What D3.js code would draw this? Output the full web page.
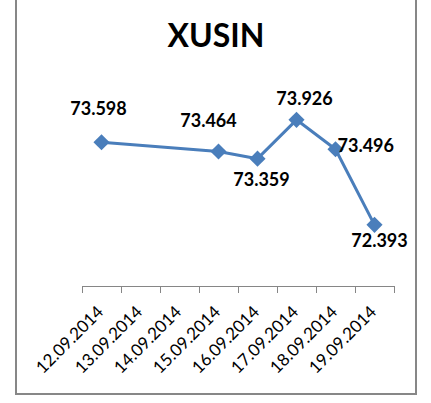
<!DOCTYPE html>
<html>
<head>
<meta charset="utf-8">
<script src="https://cdn.jsdelivr.net/npm/d3@7"></script>
<style>
  html, body { margin: 0; padding: 0; background: #fff; }
  svg { display: block; }
</style>
</head>
<body>
<div id="chart"></div>
<script>
const title = "XUSIN";
const dates = ["12.09.2014", "13.09.2014", "14.09.2014", "15.09.2014", "16.09.2014", "17.09.2014", "18.09.2014", "19.09.2014"];
const values = [73.598, null, null, 73.464, 73.359, 73.926, 73.496, 72.393];
const valueLabels = ["73.598", "", "", "73.464", "73.359", "73.926", "73.496", "72.393"];

const W = 431, H = 403;
const svg = d3.select("#chart").append("svg").attr("width", W).attr("height", H);

// frame
svg.append("rect").attr("x", 16).attr("y", -5).attr("width", 400).attr("height", 399)
  .attr("fill", "#fff").attr("stroke", "#878787").attr("stroke-width", 2);

svg.append("text").attr("x", 216).attr("y", 47).attr("text-anchor", "middle")
  .attr("font-family", "Lato, 'Open Sans', sans-serif").attr("font-weight", "bold")
  .attr("font-size", 32).attr("fill", "#000").text(title);

const x = d3.scaleBand().domain(dates).range([82, 394]).paddingInner(0).paddingOuter(0);
const y = d3.scaleLinear().domain([71.5, 74.5]).range([286, 80.5]);
const cx = d => x(d) + x.bandwidth() / 2;

// axis
const axisY = y(71.5);
const axisG = svg.append("g").attr("stroke", "#868686").attr("stroke-width", 1);
axisG.append("line").attr("x1", x.range()[0]).attr("x2", x.range()[1]).attr("y1", axisY + 0.5).attr("y2", axisY + 0.5);
const bounds = dates.map(d => x(d)).concat([x.range()[1]]);
axisG.selectAll("line.tick").data(bounds).enter().append("line").attr("class", "tick")
  .attr("x1", d => Math.round(d) + 0.5).attr("x2", d => Math.round(d) + 0.5)
  .attr("y1", axisY).attr("y2", axisY + 7);

svg.append("g").selectAll("text").data(dates).enter().append("text")
  .attr("transform", d => `translate(${cx(d) + 3},${axisY + 27}) rotate(-45)`)
  .attr("text-anchor", "end")
  .attr("font-family", "Lato, 'Open Sans', sans-serif").attr("font-size", 17).attr("fill", "#000")
  .text(d => d);

const pts = dates.map((d, i) => ({ d, v: values[i], lab: valueLabels[i] })).filter(p => p.v !== null);

const line = d3.line().x(p => cx(p.d)).y(p => y(p.v));
svg.append("path").datum(pts).attr("d", line).attr("fill", "none")
  .attr("stroke", "#4a7ebb").attr("stroke-width", 3).attr("stroke-linejoin", "round");

const sym = d3.symbol().type(d3.symbolSquare).size(130);
svg.append("g").selectAll("path").data(pts).enter().append("path")
  .attr("d", sym).attr("transform", p => `translate(${cx(p.d)},${y(p.v)}) rotate(45)`)
  .attr("fill", "#4a7ebb");

// label placement (styling)
const place = {
  "12.09.2014": { dx: -3, dy: -27, anchor: "middle" },
  "15.09.2014": { dx: -10, dy: -24, anchor: "middle" },
  "16.09.2014": { dx: 4, dy: 27, anchor: "middle" },
  "17.09.2014": { dx: 8, dy: -15, anchor: "middle" },
  "18.09.2014": { dx: 2, dy: 3, anchor: "start" },
  "19.09.2014": { dx: 5, dy: 22, anchor: "middle" }
};
svg.append("g").selectAll("text").data(pts).enter().append("text")
  .attr("x", p => cx(p.d) + place[p.d].dx)
  .attr("y", p => y(p.v) + place[p.d].dy)
  .attr("text-anchor", p => place[p.d].anchor)
  .attr("font-family", "Lato, 'Open Sans', sans-serif").attr("font-weight", "bold")
  .attr("font-size", 18).attr("fill", "#000")
  .text(p => p.lab);
</script>
</body>
</html>
